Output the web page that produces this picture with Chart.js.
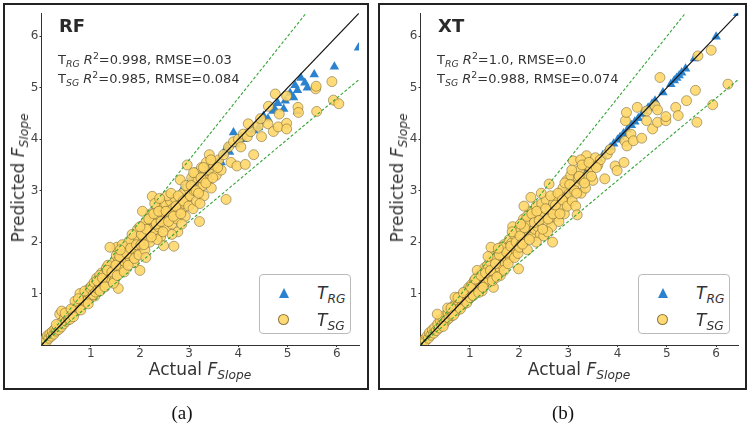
<!DOCTYPE html>
<html>
<head>
<meta charset="utf-8">
<script src="https://cdn.jsdelivr.net/npm/chart.js@4.4.1/dist/chart.umd.min.js"></script>
<style>
  body { margin: 0; background: #fff; width: 749px; height: 427px; position: relative; overflow: hidden;
         font-family: "DejaVu Sans", sans-serif; color: #333; }
  .panel { position: absolute; top: 3px; height: 387px; border: 2px solid #222; box-sizing: border-box; }
  .panel canvas { position: absolute; left: 0; top: 0; }
  .model { position: absolute; font-weight: bold; font-size: 18px; line-height: 18px; color: #2a2a2a; }
  .stats { position: absolute; font-size: 13px; line-height: 19px; white-space: nowrap; color: #333; }
  .stats sub, .legend sub, .axtitle sub { font-size: 72%; line-height: 0; vertical-align: -0.3em; }
  .stats sup { font-size: 72%; line-height: 0; vertical-align: 0.5em; }
  .axtitle { position: absolute; font-size: 17px; white-space: nowrap; color: #333; line-height: 20px; }
  .xtitle { transform: translate(-50%, -50%); }
  .ytitle { transform: translate(-50%, -50%) rotate(-90deg); }
  .legend { position: absolute; width: 92px; height: 60px; border: 1px solid #bbb; border-radius: 4px;
            box-sizing: border-box; background: #fff; }
  .legend .row { position: absolute; left: 0; width: 100%; height: 22px; }
  .legend .label { position: absolute; left: 57px; top: 0; font-size: 17px; font-style: italic; line-height: 22px; color: #333; }
  .tri { position: absolute; left: 19px; top: 6px; width: 0; height: 0;
         border-left: 5.5px solid transparent; border-right: 5.5px solid transparent; border-bottom: 10px solid #2b83cf; }
  .dot { position: absolute; left: 18px; top: 5px; width: 11px; height: 11px; border-radius: 50%; box-sizing: border-box;
         background: rgba(255, 214, 102, 0.9); border: 0.8px solid rgba(110, 95, 50, 0.8); }
  .caption { position: absolute; top: 402px; font-family: "Liberation Serif", serif; font-size: 19px; color: #111;
             transform: translateX(-50%); }
</style>
</head>
<body>

<div class="panel" id="panelA" style="left:3px; width:366px;">
  <canvas id="chartRF" width="362" height="383"></canvas>
  <div class="model" style="left:54px; top:12px;">RF</div>
  <div class="stats" style="left:53px; top:45px;">
    T<sub><i>RG</i></sub> <i>R</i><sup>2</sup>=0.998, RMSE=0.03<br>
    T<sub><i>SG</i></sub> <i>R</i><sup>2</sup>=0.985, RMSE=0.084
  </div>
  <div class="axtitle ytitle" style="left:13px; top:173px;">Predicted <i>F</i><sub><i>Slope</i></sub></div>
  <div class="axtitle xtitle" style="left:195px; top:364px;">Actual <i>F</i><sub><i>Slope</i></sub></div>
  <div class="legend" style="left:254px; top:269px;">
    <div class="row" style="top:7px;"><div class="tri"></div><div class="label">T<sub>RG</sub></div></div>
    <div class="row" style="top:34px;"><div class="dot"></div><div class="label">T<sub>SG</sub></div></div>
  </div>
</div>

<div class="panel" id="panelB" style="left:378px; width:369px;">
  <canvas id="chartXT" width="365" height="383"></canvas>
  <div class="model" style="left:58px; top:12px;">XT</div>
  <div class="stats" style="left:57px; top:45px;">
    T<sub><i>RG</i></sub> <i>R</i><sup>2</sup>=1.0, RMSE=0.0<br>
    T<sub><i>SG</i></sub> <i>R</i><sup>2</sup>=0.988, RMSE=0.074
  </div>
  <div class="axtitle ytitle" style="left:17px; top:173px;">Predicted <i>F</i><sub><i>Slope</i></sub></div>
  <div class="axtitle xtitle" style="left:199px; top:364px;">Actual <i>F</i><sub><i>Slope</i></sub></div>
  <div class="legend" style="left:258px; top:269px;">
    <div class="row" style="top:7px;"><div class="tri"></div><div class="label">T<sub>RG</sub></div></div>
    <div class="row" style="top:34px;"><div class="dot"></div><div class="label">T<sub>SG</sub></div></div>
  </div>
</div>

<div class="caption" style="left:182px;">(a)</div>
<div class="caption" style="left:563px;">(b)</div>

<script>
const tickValues = [1, 2, 3, 4, 5, 6];
const axisMax = 6.45;
const bandFactors = [1.2, 0.8]; // linhas de ±20%

const rfRgPoints = [
  [0.08,0.05],[0.2,0.18],[0.35,0.33],[0.5,0.47],[0.7,0.68],[0.9,0.88],[1.1,1.07],[1.3,1.28],[1.5,1.46],
  [1.7,1.68],[1.9,1.86],[2.1,2.05],[2.14,2.42],[2.3,2.2],[2.34,2.52],[2.5,2.45],[2.6,2.62],[2.69,2.81],
  [2.75,2.68],[2.88,3.05],[2.95,2.9],[3.02,3.2],[3.1,3.05],[3.2,3.2],[3.3,3.28],[3.4,3.35],[3.5,3.45],
  [3.59,3.58],[3.65,3.55],[3.7,3.72],[3.76,3.84],[3.82,3.75],[3.9,4.13],[3.95,3.9],[4.0,3.95],[4.05,4.05],
  [4.1,4.0],[4.2,4.1],[4.31,4.17],[4.41,4.23],[4.45,4.35],[4.51,4.45],[4.6,4.4],[4.7,4.55],[4.73,4.6],
  [4.8,4.7],[4.92,4.59],[4.95,4.75],[5.05,4.9],[5.12,4.81],[5.15,5.05],[5.2,4.95],[5.2,4.54],[5.27,5.19],
  [5.35,5.1],[5.4,5.0],[5.54,5.26],[5.95,5.41],[6.44,5.78]
];

const rfSgPoints = [
  [0.05,0.08],[0.08,0.12],[0.1,0.07],[0.12,0.18],[0.15,0.13],[0.17,0.22],[0.2,0.17],[0.22,0.26],[0.25,0.21],
  [0.27,0.31],[0.3,0.27],[0.32,0.36],[0.35,0.3],[0.37,0.6],[0.4,0.35],[0.41,0.66],[0.42,0.45],[0.45,0.41],
  [0.47,0.53],[0.5,0.46],[0.52,0.57],[0.55,0.5],[0.57,0.62],[0.6,0.54],[0.62,0.68],[0.65,0.6],[0.67,0.73],
  [0.7,0.65],[0.72,0.8],[0.75,0.69],[0.77,0.84],[0.8,0.74],[0.82,0.9],[0.85,0.79],[0.87,0.95],[0.9,0.84],
  [0.92,1.02],[0.95,0.9],[0.97,1.1],[1.0,0.93],[0.48,0.62],[0.3,0.4],[0.68,0.85],[0.78,1.0],[0.58,0.5],
  [0.6,0.7],[0.65,0.55],[0.75,0.9],[0.8,0.68],[0.88,1.05],[0.95,0.8],[1.0,1.1],[1.08,0.95],
  [1.02,1.15],[1.05,0.98],[1.07,1.22],[1.1,1.03],[1.12,1.3],[1.15,1.08],[1.17,1.2],[1.2,1.12],[1.22,1.4],
  [1.25,1.17],[1.27,1.33],[1.3,1.22],[1.32,1.5],[1.35,1.27],[1.37,1.43],[1.4,1.3],[1.42,1.55],[1.45,1.36],
  [1.47,1.6],[1.5,1.4],[1.52,1.74],[1.56,1.1],[1.57,1.66],[1.6,1.5],[1.62,1.8],[1.65,1.55],[1.67,1.73],
  [1.7,1.6],[1.72,1.92],[1.75,1.64],[1.77,1.85],[1.8,1.7],[1.82,2.0],[1.85,1.73],[1.87,1.95],[1.9,1.8],
  [1.92,2.1],[1.95,1.85],[1.97,2.05],[2.0,1.45],[1.53,1.9],[1.35,1.55],[1.18,1.35],[1.63,1.45],[1.48,1.25],
  [1.78,2.02],[1.88,1.6],[1.95,2.25],
  [1.13,1.25],[1.19,1.05],[1.24,1.3],[1.29,1.13],[1.34,1.45],[1.39,1.9],[1.43,1.42],[1.46,1.2],[1.51,1.55],
  [1.54,1.35],[1.59,1.72],[1.64,1.95],[1.68,1.42],[1.73,1.78],[1.76,1.55],[1.81,1.88],[1.84,2.15],[1.89,1.68],
  [1.93,1.95],[1.98,1.75],[1.6,1.85],
  [2.02,1.95],[2.05,2.3],[2.07,2.1],[2.1,1.85],[2.12,2.4],[2.15,2.05],[2.17,2.25],[2.2,2.0],[2.22,2.55],
  [2.25,2.89],[2.27,2.15],[2.3,2.4],[2.32,2.2],[2.35,2.65],[2.37,2.3],[2.4,2.5],[2.42,2.1],[2.45,2.7],
  [2.48,1.93],[2.5,2.45],[2.52,2.75],[2.55,2.3],[2.57,2.6],[2.6,2.5],[2.62,2.8],[2.65,2.35],[2.67,2.65],
  [2.69,1.92],[2.7,2.55],[2.72,2.85],[2.75,2.45],[2.77,2.2],[2.8,2.7],[2.82,3.21],[2.85,2.6],[2.87,2.95],
  [2.9,2.75],[2.92,2.5],[2.95,2.85],[2.96,3.5],[2.98,3.05],[2.3,2.75],[2.55,2.9],[2.65,2.15],[2.12,1.7],
  [2.35,2.05],[2.05,2.6],[2.85,2.35],[2.4,2.85],
  [2.03,2.15],[2.08,1.95],[2.13,2.25],[2.18,2.45],[2.23,2.1],[2.28,2.55],[2.33,2.35],[2.38,2.6],[2.43,2.4],
  [2.47,2.2],[2.53,2.6],[2.58,2.4],[2.63,2.95],[2.68,2.5],[2.73,2.7],[2.78,2.9],[2.83,2.55],[2.88,2.8],
  [2.93,3.1],[2.99,2.7],[2.0,2.3],
  [3.02,2.9],[3.05,3.25],[3.08,2.65],[3.1,3.0],[3.12,3.35],[3.15,2.8],[3.18,3.2],[3.21,2.4],[3.22,3.05],
  [3.25,3.45],[3.28,3.1],[3.3,2.9],[3.32,3.3],[3.35,3.55],[3.38,3.2],[3.41,3.7],[3.42,3.4],[3.45,3.05],
  [3.5,3.5],[3.55,3.3],[3.6,3.6],[3.65,3.4],[3.75,2.83],[3.8,3.85],[3.85,3.55],[3.9,3.95],[3.97,3.48],
  [4.0,4.0],[3.7,3.7],[3.22,2.75],
  [3.04,3.1],[3.09,3.35],[3.14,3.0],[3.19,2.95],[3.24,3.25],[3.29,3.45],[3.34,3.15],[3.44,3.6],[3.48,3.25],
  [3.58,3.45],
  [4.05,3.85],[4.1,4.1],[4.14,3.51],[4.18,4.05],[4.25,4.15],[4.31,3.7],[4.4,4.25],[4.47,4.05],[4.61,4.64],
  [4.6,4.3],[4.71,4.15],[4.75,4.88],[4.81,4.24],[4.83,4.49],[4.98,4.84],[4.98,4.31],[4.98,4.2],[5.21,4.62],
  [5.22,4.52],[5.57,4.98],[5.58,5.03],[5.59,4.54],[5.9,5.12],[5.93,4.76],[6.04,4.69],[4.45,4.4],[4.2,4.3]
];

const xtRgPoints = [
  [0.05,0.04],[0.12,0.11],[0.2,0.19],[0.3,0.29],[0.42,0.41],[0.55,0.54],[0.7,0.69],[0.85,0.84],[1.0,0.99],
  [1.2,1.19],[1.4,1.39],[1.6,1.59],[1.8,1.79],[2.0,1.99],[2.2,2.19],[2.4,2.39],[2.6,2.59],[2.8,2.79],
  [3.01,2.9],[3.05,3.04],[3.2,3.19],[3.35,3.34],[3.5,3.49],[3.62,3.61],[3.7,3.69],[3.78,3.77],[3.85,3.84],
  [3.92,3.91],[4.0,3.99],[4.05,4.04],[4.12,4.11],[4.2,4.19],[4.28,4.27],[4.35,4.34],[4.42,4.41],[4.5,4.49],
  [4.55,4.54],[4.62,4.61],[4.7,4.69],[4.76,4.75],[4.92,4.91],[5.08,5.07],[5.15,5.14],[5.2,5.19],[5.25,5.24],
  [5.3,5.29],[5.38,5.37],[5.56,5.57],[6.0,5.99],[6.44,6.45]
];

const xtSgPoints = [
  [0.04,0.06],[0.07,0.1],[0.1,0.08],[0.13,0.17],[0.16,0.13],[0.18,0.24],[0.21,0.19],[0.24,0.29],[0.27,0.23],
  [0.29,0.34],[0.32,0.28],[0.35,0.41],[0.38,0.33],[0.4,0.48],[0.43,0.39],[0.45,0.52],[0.48,0.42],[0.5,0.58],
  [0.53,0.48],[0.56,0.63],[0.58,0.52],[0.61,0.7],[0.64,0.57],[0.66,0.75],[0.69,0.62],[0.72,0.82],[0.74,0.67],
  [0.77,0.86],[0.8,0.72],[0.82,0.93],[0.85,0.77],[0.88,1.0],[0.9,0.82],[0.93,1.05],[0.96,0.87],[0.98,1.12],
  [0.34,0.6],[0.55,0.72],[0.7,0.93],[0.46,0.36],
  [0.62,0.72],[0.67,0.58],[0.76,0.92],[0.81,0.7],[0.87,1.02],[0.94,0.82],
  [1.01,0.92],[1.04,1.18],[1.06,0.97],[1.09,1.25],[1.12,1.02],[1.14,1.3],[1.17,1.08],[1.2,1.36],[1.22,1.13],
  [1.25,1.42],[1.28,1.18],[1.3,1.5],[1.33,1.23],[1.36,1.55],[1.38,1.28],[1.41,1.62],[1.44,1.33],[1.47,1.72],
  [1.48,1.12],[1.5,1.4],[1.53,1.68],[1.56,1.45],[1.58,1.85],[1.61,1.5],[1.64,1.78],[1.66,1.55],[1.69,1.95],
  [1.72,1.6],[1.74,1.88],[1.77,1.66],[1.8,2.05],[1.82,1.7],[1.85,1.98],[1.88,1.76],[1.9,2.15],[1.93,1.82],
  [1.96,2.22],[1.99,1.48],[1.25,1.05],[1.62,1.35],[1.87,2.3],[1.43,1.9],[1.15,1.45],
  [1.02,1.12],[1.07,0.96],[1.11,1.28],[1.18,1.02],[1.23,1.35],[1.27,1.12],[1.32,1.4],[1.37,1.72],[1.42,1.45],
  [1.46,1.25],[1.52,1.58],[1.55,1.32],[1.6,1.75],[1.65,1.9],[1.7,1.45],[1.75,1.8],[1.78,1.58],[1.83,1.92],
  [1.86,2.2],[1.91,1.7],[1.94,2.0],[1.98,1.78],[1.58,1.88],
  [2.01,1.9],[2.04,2.25],[2.06,1.98],[2.09,2.45],[2.12,2.05],[2.14,2.35],[2.17,1.85],[2.2,2.2],[2.22,2.6],
  [2.24,2.87],[2.27,2.1],[2.3,2.48],[2.32,2.25],[2.35,2.7],[2.38,2.3],[2.4,2.55],[2.43,2.15],[2.46,2.75],
  [2.5,2.12],[2.52,2.5],[2.55,2.82],[2.58,2.4],[2.61,3.13],[2.63,2.65],[2.66,2.3],[2.68,2.0],[2.7,2.75],
  [2.73,2.5],[2.76,2.9],[2.78,2.6],[2.81,2.4],[2.84,2.95],[2.86,2.7],[2.89,3.05],[2.92,2.55],[2.94,2.85],
  [2.97,3.2],[2.99,2.75],[2.35,2.0],[2.58,2.2],[2.45,2.95],[2.1,2.7],
  [2.02,2.12],[2.07,1.96],[2.11,2.28],[2.16,2.5],[2.21,2.05],[2.26,2.55],[2.31,2.38],[2.36,2.6],[2.41,2.42],
  [2.48,2.25],[2.54,2.65],[2.59,2.45],[2.64,2.9],[2.69,2.55],[2.74,2.72],[2.79,2.95],[2.83,2.55],[2.88,2.82],
  [2.93,3.15],[2.98,2.7],[2.03,2.35],
  [3.02,2.95],[3.05,3.3],[3.08,2.8],[3.1,3.58],[3.12,3.1],[3.15,2.7],[3.18,2.53],[3.2,3.25],[3.23,3.4],
  [3.26,2.95],[3.29,3.2],[3.32,3.5],[3.35,3.05],[3.37,3.68],[3.4,3.3],[3.45,3.45],[3.5,3.2],[3.55,3.64],
  [3.6,3.5],[3.65,3.6],[3.74,3.23],[3.79,3.71],[3.85,3.8],[3.95,3.48],[3.99,3.39],[3.25,3.6],
  [3.03,3.12],[3.07,3.4],[3.13,3.0],[3.17,2.95],[3.22,3.28],[3.28,3.5],[3.33,3.15],[3.42,3.55],[3.47,3.28],
  [3.57,3.45],
  [4.13,3.55],[4.15,3.96],[4.16,4.36],[4.18,4.52],[4.19,3.87],[4.27,4.1],[4.32,3.97],[4.4,4.62],[4.49,4.02],
  [4.59,4.36],[4.59,4.55],[4.71,4.2],[4.76,4.65],[4.81,4.33],[4.81,4.57],[4.86,5.2],[4.98,4.36],[4.98,4.44],
  [5.18,4.62],[5.23,4.46],[5.4,4.75],[5.58,4.95],[5.61,4.33],[5.63,5.62],[5.9,5.73],[5.93,4.67],[6.24,5.07]
];

function toXY(points) {
  return points.map(p => ({ x: p[0], y: p[1] }));
}

function axisOptions(isX) {
  return {
    type: 'linear',
    min: 0,
    max: axisMax,
    afterBuildTicks: s => { s.ticks = tickValues.map(v => ({ value: v })); },
    afterFit: s => { if (isX) s.height = 20; else s.width = 24; },
    grid: { drawOnChartArea: false, drawTicks: true, tickLength: 2, color: '#333' },
    border: { display: true, color: '#333', width: 1 },
    ticks: { font: { size: 12, family: 'DejaVu Sans' }, color: '#444', padding: isX ? 0 : 1, maxRotation: 0 }
  };
}

function drawPanel(canvasId, rgPoints, sgPoints, padLeft, padRight) {
  const el = document.getElementById(canvasId);
  if (!el) return;
  const diagonal = toXY([[0, 0], [axisMax, axisMax]]);
  const upper = toXY([[0, 0], [axisMax / bandFactors[0], axisMax]]);
  const lower = toXY([[0, 0], [axisMax, axisMax * bandFactors[1]]]);

  new Chart(el, {
    type: 'scatter',
    data: {
      datasets: [
        { data: diagonal, showLine: true, borderColor: '#111', borderWidth: 1.2, pointRadius: 0 },
        { data: upper, showLine: true, borderColor: '#35a535', borderWidth: 1.1, borderDash: [3, 2], pointRadius: 0 },
        { data: lower, showLine: true, borderColor: '#35a535', borderWidth: 1.1, borderDash: [3, 2], pointRadius: 0 },
        {
          label: 'T_SG', data: toXY(sgPoints), pointStyle: 'circle', pointRadius: 5,
          backgroundColor: 'rgba(255, 214, 102, 0.88)', borderColor: 'rgba(110, 95, 50, 0.75)', borderWidth: 0.7
        },
        {
          label: 'T_RG', data: toXY(rgPoints), pointStyle: 'triangle', pointRadius: 5.5,
          backgroundColor: '#2b83cf', borderColor: '#2b83cf', borderWidth: 0
        }
      ]
    },
    options: {
      responsive: false,
      animation: false,
      layout: { padding: { left: padLeft, right: padRight, top: 6, bottom: 23 } },
      plugins: { legend: { display: false }, tooltip: { enabled: false } },
      scales: { x: axisOptions(true), y: axisOptions(false) }
    }
  });
}

drawPanel('chartRF', rfRgPoints, rfSgPoints, 12.5, 8);
drawPanel('chartXT', xtRgPoints, xtSgPoints, 16.5, 6.7);
</script>
</body>
</html>
